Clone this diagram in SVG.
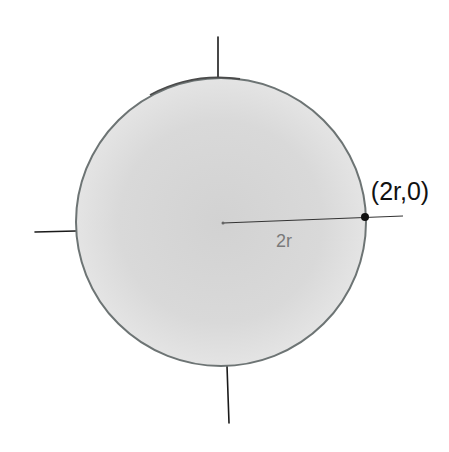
<svg xmlns="http://www.w3.org/2000/svg" width="449" height="452" viewBox="0 0 449 452">
<style>
.axis{stroke:#1a1a1a;stroke-width:1.6;fill:none;stroke-linecap:round}
.hand{font-family:"Liberation Sans",Arial,sans-serif}
</style>
<defs>
<radialGradient id="shade" cx="0.5" cy="0.5" r="0.5">
<stop offset="0" stop-color="#d2d2d2"/>
<stop offset="0.7" stop-color="#d9d9d9"/>
<stop offset="1" stop-color="#e4e4e4"/>
</radialGradient>
</defs>
<rect width="449" height="452" fill="#ffffff"/>
<g id="axes">
<line class="axis" x1="218" y1="37" x2="218" y2="80"/>
<line class="axis" x1="35" y1="232" x2="76" y2="231"/>
<line class="axis" x1="227" y1="366" x2="229" y2="423"/>
</g>
<g id="disc">
<ellipse cx="221" cy="222" rx="145" ry="144" fill="url(#shade)" stroke="#6d7474" stroke-width="2"/>
<path d="M150 95 A145 144 0 0 1 240 79" fill="none" stroke="#4a4a4a" stroke-width="1.8"/>
</g>
<g id="radius">
<line x1="223" y1="223" x2="403" y2="216" stroke="#333" stroke-width="1.2"/>
<circle cx="223" cy="223" r="1.5" fill="#666"/>
<circle cx="365" cy="217" r="4" fill="#111"/>
<text class="hand" x="284" y="247" font-size="18" fill="#7a7a7a" text-anchor="middle">2r</text>
</g>
<g id="label">
<text class="hand" x="400" y="200" font-size="25" fill="#111" text-anchor="middle">(2r,0)</text>
</g>
</svg>
